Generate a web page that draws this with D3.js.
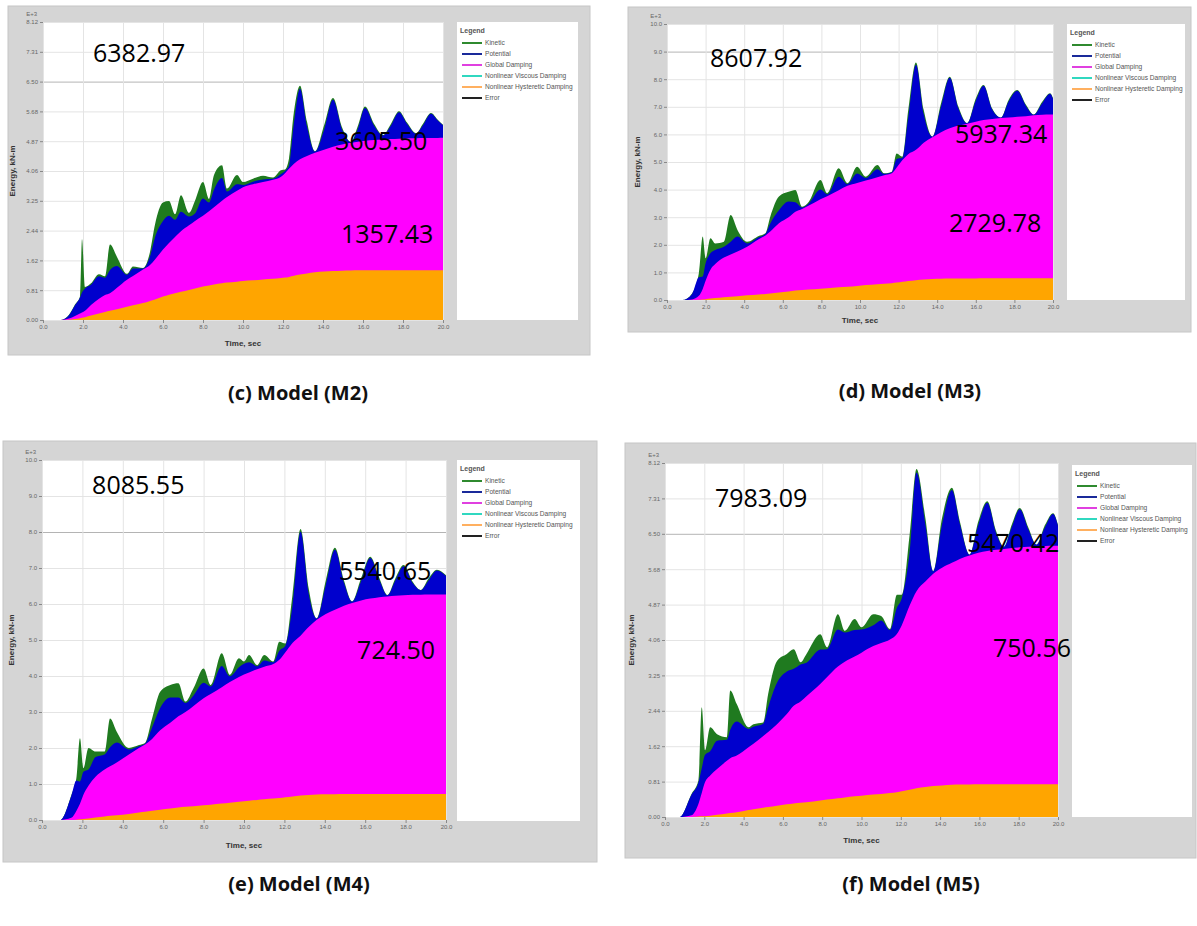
<!DOCTYPE html>
<html>
<head>
<meta charset="utf-8">
<script src="https://cdn.jsdelivr.net/npm/d3@7"></script>
<style>
  body { margin: 0; background: #fff; }
</style>
</head>
<body>
<svg id="chart" width="1197" height="926" font-family="Liberation Sans, Arial, sans-serif"></svg>
<script>
// legend entries (SAP2000 energy plot)
const seriesNames = ["Kinetic", "Potential", "Global Damping", "Nonlinear Viscous Damping", "Nonlinear Hysteretic Damping", "Error"];
const xTickLabels = ["0.0", "2.0", "4.0", "6.0", "8.0", "10.0", "12.0", "14.0", "16.0", "18.0", "20.0"];
const yTicks812 = ["0.00", "0.81", "1.62", "2.44", "3.25", "4.06", "4.87", "5.68", "6.50", "7.31", "8.12"];
const yTicks10 = ["0.0", "1.0", "2.0", "3.0", "4.0", "5.0", "6.0", "7.0", "8.0", "9.0", "10.0"];

// energies in kN-m
const timeM2 = [0, 0.9, 1.3, 1.6, 1.85, 1.95, 2.1, 2.4, 2.8, 3.1, 3.35, 3.7, 4.2, 4.5, 5.0, 5.35, 5.6, 6.0, 6.3, 6.6, 6.9, 7.3, 7.6, 8.0, 8.3, 8.55, 8.95, 9.2, 9.7, 10.0, 10.5, 11.0, 11.5, 11.9, 12.1, 12.3, 12.55, 12.85, 13.2, 13.6, 14.05, 14.5, 14.95, 15.4, 15.75, 16.1, 16.55, 17.0, 17.4, 17.8, 18.2, 18.65, 19.0, 19.4, 19.75, 20.0];
const hystM2 = [0, 0, 10, 30, 50, 60, 75, 120, 180, 220, 250, 290, 360, 400, 460, 520, 560, 640, 690, 730, 770, 820, 860, 910, 940, 970, 1000, 1020, 1045, 1060, 1080, 1105, 1125, 1145, 1155, 1175, 1205, 1240, 1270, 1300, 1320, 1335, 1345, 1350, 1353, 1355, 1356, 1357, 1357, 1357, 1357, 1357, 1357, 1357, 1357, 1357];
const dampM2 = [0, 0, 30, 80, 130, 145, 175, 290, 400, 460, 480, 590, 740, 800, 915, 980, 1090, 1280, 1410, 1530, 1650, 1760, 1840, 1930, 2020, 2100, 2250, 2330, 2475, 2560, 2620, 2655, 2695, 2755, 2845, 2945, 3055, 3140, 3200, 3260, 3320, 3385, 3435, 3480, 3507, 3530, 3549, 3563, 3575, 3585, 3593, 3598, 3601, 3603, 3605, 3606];
const potM2 = [0, 0, 90, 290, 430, 545, 610, 550, 610, 470, 630, 590, 130, 200, 25, 230, 600, 780, 740, 470, 530, 240, 200, 470, 240, 480, 620, 150, 180, 60, 70, 70, 30, 80, 60, 80, 1130, 1923, 810, 30, 540, 1280, 410, 15, 360, 895, 395, 110, 368, 718, 400, 125, 352, 660, 468, 347];
const kinM2 = [0, 0, 10, 20, 30, 1450, 40, 40, 60, 40, 700, 250, 30, 60, 20, 120, 350, 500, 400, 150, 450, 100, 350, 450, 100, 400, 350, 80, 250, 80, 80, 100, 30, 100, 40, 200, 300, 80, 120, 10, 120, 50, 60, 5, 80, 40, 50, 10, 50, 30, 30, 10, 40, 20, 20, 10];
const notesM2 = ["6382.97", "3605.50", "1357.43"];

const timeM3 = [0, 0.8, 1.3, 1.65, 1.85, 2.0, 2.25, 2.5, 2.95, 3.3, 3.65, 4.15, 4.75, 5.1, 5.35, 5.8, 6.3, 6.65, 7.0, 7.35, 7.95, 8.3, 8.9, 9.35, 9.85, 10.3, 10.9, 11.25, 11.65, 11.9, 12.2, 12.5, 12.9, 13.3, 13.75, 14.2, 14.65, 15.1, 15.55, 16.0, 16.4, 16.85, 17.3, 17.7, 18.15, 18.6, 19.0, 19.45, 19.85, 20.0];
const hystM3 = [0, 0, 0, 10, 20, 30, 50, 70, 100, 120, 140, 170, 200, 220, 240, 270, 310, 340, 360, 380, 410, 430, 460, 480, 510, 540, 570, 590, 610, 630, 660, 690, 720, 745, 760, 770, 775, 780, 782, 783, 784, 785, 785, 785, 785, 785, 785, 785, 785, 785];
const dampM3 = [0, 0, 20, 140, 380, 670, 1050, 1230, 1440, 1530, 1620, 1760, 2000, 2120, 2240, 2510, 2690, 2860, 2940, 3040, 3240, 3330, 3520, 3660, 3730, 3790, 3880, 3930, 3980, 4170, 4410, 4590, 4720, 4955, 5140, 5310, 5445, 5540, 5608, 5677, 5736, 5775, 5805, 5825, 5855, 5875, 5910, 5925, 5935, 5937];
const potM3 = [0, 0, 200, 670, 450, 630, 590, 510, 390, 460, 540, 120, 70, 50, 290, 470, 570, 340, 50, 80, 350, 70, 490, 60, 340, 90, 290, 50, 40, 310, 80, 1350, 3088, 1040, 15, 930, 1830, 620, 15, 760, 1240, 340, 15, 580, 940, 370, 20, 430, 750, 568];
const kinM3 = [0, 0, 20, 150, 1450, 180, 550, 240, 180, 970, 240, 60, 50, 30, 250, 500, 350, 450, 30, 60, 350, 40, 300, 30, 250, 50, 150, 20, 20, 200, 40, 250, 80, 150, 5, 120, 40, 60, 5, 80, 30, 40, 5, 60, 30, 40, 5, 50, 20, 20];
const notesM3 = ["8607.92", "5937.34", "2729.78"];

const timeM4 = [0, 0.9, 1.45, 1.7, 1.88, 2.05, 2.3, 2.65, 3.1, 3.37, 3.7, 4.3, 4.8, 5.1, 5.45, 5.85, 6.35, 6.75, 7.1, 7.5, 8.0, 8.35, 8.9, 9.3, 9.75, 10.0, 10.25, 10.65, 11.0, 11.45, 11.75, 12.05, 12.4, 12.8, 13.2, 13.6, 14.05, 14.5, 14.95, 15.35, 15.8, 16.25, 16.7, 17.1, 17.5, 17.9, 18.35, 18.75, 19.15, 19.55, 20.0];
const hystM4 = [0, 0, 0, 10, 20, 30, 45, 70, 100, 115, 135, 170, 210, 230, 255, 285, 320, 345, 365, 385, 410, 425, 455, 480, 505, 520, 535, 555, 575, 595, 610, 630, 655, 680, 695, 705, 712, 717, 720, 722, 723, 724, 725, 725, 725, 725, 725, 725, 725, 725, 725];
const dampM4 = [0, 0, 60, 240, 430, 670, 905, 1130, 1300, 1375, 1465, 1650, 1790, 1870, 1995, 2205, 2380, 2535, 2635, 2785, 2970, 3075, 3235, 3350, 3465, 3520, 3565, 3635, 3685, 3735, 3840, 4030, 4265, 4440, 4665, 4855, 5008, 5123, 5230, 5308, 5377, 5426, 5465, 5485, 5505, 5520, 5530, 5535, 5538, 5540, 5540];
const potM4 = [0, 0, 610, 850, 620, 640, 450, 550, 420, 530, 550, 140, 50, 20, 320, 620, 700, 520, 250, 290, 430, 210, 590, 160, 270, 300, 280, 80, 170, 50, 250, 180, 1030, 2886, 930, 35, 810, 1670, 640, 35, 540, 1130, 480, 35, 430, 805, 325, 125, 407, 665, 515];
const kinM4 = [0, 0, 20, 60, 1200, 100, 600, 150, 80, 800, 300, 40, 30, 20, 250, 450, 350, 400, 40, 200, 400, 40, 350, 40, 250, 60, 200, 30, 150, 20, 250, 60, 300, 80, 150, 5, 120, 50, 60, 5, 80, 30, 50, 5, 60, 30, 40, 5, 50, 20, 20];
const notesM4 = ["8085.55", "5540.65", "724.50"];

const timeM5 = [0, 0.75, 1.35, 1.7, 1.87, 2.04, 2.3, 2.65, 3.15, 3.32, 3.65, 4.25, 4.5, 5.0, 5.25, 5.7, 6.2, 6.55, 6.9, 7.2, 7.9, 8.25, 8.8, 9.15, 9.65, 10.0, 10.6, 11.0, 11.45, 11.8, 12.05, 12.45, 12.8, 13.25, 13.65, 14.1, 14.6, 15.0, 15.5, 15.95, 16.4, 16.85, 17.25, 17.65, 18.05, 18.5, 18.9, 19.35, 19.75, 20.0];
const hystM5 = [0, 0, 0, 10, 15, 20, 30, 50, 80, 90, 110, 160, 180, 215, 230, 260, 290, 310, 325, 340, 380, 400, 430, 450, 475, 490, 515, 530, 550, 570, 590, 625, 660, 690, 710, 725, 738, 744, 748, 750, 751, 751, 751, 751, 751, 751, 751, 751, 751, 751];
const dampM5 = [0, 0, 40, 290, 535, 780, 920, 1050, 1210, 1260, 1300, 1440, 1500, 1645, 1720, 1870, 2070, 2240, 2325, 2430, 2670, 2810, 3020, 3110, 3205, 3280, 3405, 3460, 3520, 3630, 3810, 4225, 4520, 4710, 4870, 4995, 5092, 5176, 5252, 5310, 5349, 5379, 5399, 5419, 5434, 5449, 5459, 5464, 5469, 5470];
const potM5 = [0, 0, 470, 490, 570, 630, 560, 650, 480, 650, 780, 420, 390, 280, 570, 950, 980, 850, 850, 770, 790, 640, 850, 670, 610, 530, 480, 520, 220, 600, 620, 1230, 2723, 1310, 55, 990, 1670, 810, 15, 650, 1110, 380, 45, 480, 875, 390, 35, 445, 730, 459];
const kinM5 = [0, 0, 20, 50, 1400, 100, 550, 150, 60, 900, 400, 40, 60, 30, 300, 500, 400, 450, 50, 200, 350, 40, 350, 40, 250, 50, 250, 100, 20, 300, 80, 400, 80, 150, 5, 150, 50, 60, 5, 80, 30, 50, 5, 60, 30, 40, 5, 50, 20, 20];
const notesM5 = ["7983.09", "5470.42", "750.56"];

const layerColor = { hyst: "#ffa500", damp: "#ff00ff", pot: "#0000cd", kin: "#1f7a1f" };
const legendColor = ["#2f8a2f", "#1a2a9a", "#e040e0", "#30d8c0", "#ffb060", "#222222"];

// layout of the four panels: frame, plot area and legend box in pixels
const panels = [
  { caption: "(c) Model (M2)", time: timeM2, hyst: hystM2, damp: dampM2, pot: potM2, kin: kinM2, notes: notesM2,
    yTicks: yTicks812, yMax: 8120, frame: [8, 6, 582, 349], plot: [43, 22, 400, 298], legend: [457, 22, 121, 298],
    cap: [298, 400], noteAt: [[2.5, 7030], [14.6, 4630], [14.9, 2100]], darkTick: 8, titleGap: 26, yTitleX: 15 },
  { caption: "(d) Model (M3)", time: timeM3, hyst: hystM3, damp: dampM3, pot: potM3, kin: kinM3, notes: notesM3,
    yTicks: yTicks10, yMax: 10000, frame: [628, 7, 563, 325], plot: [667, 24, 386, 276], legend: [1067, 24, 118, 276],
    cap: [910, 398], noteAt: [[2.23, 8442], [14.92, 5688], [14.61, 2464]], darkTick: 9, titleGap: 23, yTitleX: 640 },
  { caption: "(e) Model (M4)", time: timeM4, hyst: hystM4, damp: dampM4, pot: potM4, kin: kinM4, notes: notesM4,
    yTicks: yTicks10, yMax: 10000, frame: [3, 441, 594, 421], plot: [42, 460, 404, 360], legend: [457, 460, 123, 361],
    cap: [299, 891], noteAt: [[2.48, 9056], [14.7, 6667], [15.6, 4472]], darkTick: 8, titleGap: 28, yTitleX: 14 },
  { caption: "(f) Model (M5)", time: timeM5, hyst: hystM5, damp: dampM5, pot: potM5, kin: kinM5, notes: notesM5,
    yTicks: yTicks812, yMax: 8120, frame: [625, 443, 571, 415], plot: [665, 463, 393, 354], legend: [1072, 465, 120, 352],
    cap: [911, 891], noteAt: [[2.54, 7111], [15.37, 6079], [16.69, 3670]], darkTick: 8, titleGap: 26, yTitleX: 634 }
];

const svg = d3.select("#chart");

panels.forEach(p => drawPanel(p));

function drawPanel(p) {
  const g = svg.append("g");
  const [fx, fy, fw, fh] = p.frame;
  const [px, py, pw, ph] = p.plot;
  const [lx, ly, lw, lh] = p.legend;

  g.append("rect").attr("x", fx).attr("y", fy).attr("width", fw).attr("height", fh)
    .attr("fill", "#d5d5d5").attr("stroke", "#c6c6c6");
  g.append("rect").attr("x", px).attr("y", py).attr("width", pw).attr("height", ph).attr("fill", "#fff");

  const x = d3.scaleLinear().domain([0, 20]).range([px, px + pw]);
  const y = d3.scaleLinear().domain([0, p.yMax]).range([py + ph, py]);
  const yVals = p.yTicks.map((_, i) => p.yMax * i / 10);
  const xVals = xTickLabels.map(d => +d);

  // grid
  g.append("g").attr("transform", `translate(${px},0)`)
    .call(d3.axisLeft(y).tickValues(yVals).tickSize(-pw).tickFormat(""))
    .call(a => a.select(".domain").remove())
    .call(a => a.selectAll("line").attr("stroke", (d, i) => i === p.darkTick ? "#b4b4b4" : "#e4e4e4"));
  g.append("g").attr("transform", `translate(0,${py + ph})`)
    .call(d3.axisBottom(x).tickValues(xVals).tickSize(-ph).tickFormat(""))
    .call(a => a.select(".domain").remove())
    .call(a => a.selectAll("line").attr("stroke", "#e4e4e4"));

  // stacked energies, painted from the top layer down
  const rows = p.time.map((t, i) => ({ t: t, hyst: p.hyst[i], damp: p.damp[i], pot: p.pot[i], kin: p.kin[i] }));
  const layers = d3.stack().keys(["hyst", "damp", "pot", "kin"])(rows);
  const area = d3.area()
    .x(d => x(d.data.t))
    .y0(y(0))
    .y1(d => y(d[1]))
    .curve(d3.curveMonotoneX);
  layers.slice().reverse().forEach(layer => {
    g.append("path").attr("d", area(layer)).attr("fill", layerColor[layer.key]);
  });

  // axes
  g.append("g").attr("transform", `translate(${px},0)`)
    .call(d3.axisLeft(y).tickValues(yVals).tickFormat((d, i) => p.yTicks[i]).tickSize(3).tickPadding(2))
    .call(a => a.select(".domain").remove())
    .call(a => a.attr("font-size", 6).attr("font-family", "Liberation Sans, Arial, sans-serif"))
    .call(a => a.selectAll("text").attr("fill", "#666"))
    .call(a => a.selectAll("line").attr("stroke", "#888"));
  g.append("g").attr("transform", `translate(0,${py + ph})`)
    .call(d3.axisBottom(x).tickValues(xVals).tickFormat((d, i) => xTickLabels[i]).tickSize(3).tickPadding(2))
    .call(a => a.select(".domain").remove())
    .call(a => a.attr("font-size", 6).attr("font-family", "Liberation Sans, Arial, sans-serif"))
    .call(a => a.selectAll("text").attr("fill", "#666"))
    .call(a => a.selectAll("line").attr("stroke", "#888"));

  g.append("text").attr("x", px - 6).attr("y", py - 6).attr("text-anchor", "end")
    .attr("font-size", 6).attr("fill", "#666").text("E+3");
  g.append("text").attr("x", px + pw / 2).attr("y", py + ph + p.titleGap).attr("text-anchor", "middle")
    .attr("font-size", 8).attr("font-weight", "bold").attr("fill", "#333").text("Time, sec");
  g.append("text").attr("transform", `translate(${p.yTitleX},${py + ph / 2}) rotate(-90)`).attr("text-anchor", "middle")
    .attr("font-size", 8).attr("font-weight", "bold").attr("fill", "#333").text("Energy, kN-m");

  // legend
  g.append("rect").attr("x", lx).attr("y", ly).attr("width", lw).attr("height", lh).attr("fill", "#fff");
  g.append("text").attr("x", lx + 3).attr("y", ly + 11).attr("font-size", 7).attr("font-weight", "bold")
    .attr("fill", "#555").text("Legend");
  const item = g.selectAll(".leg").data(seriesNames).enter().append("g")
    .attr("transform", (d, i) => `translate(${lx + 5},${ly + 21 + i * 11})`);
  item.append("line").attr("x1", 0).attr("x2", 20).attr("stroke-width", 2)
    .attr("stroke", (d, i) => legendColor[i]);
  item.append("text").attr("x", 23).attr("y", 2).attr("font-size", 6.6).attr("fill", "#555").text(d => d);

  // values written on the plot
  g.selectAll(".note").data(p.notes).enter().append("text")
    .attr("x", (d, i) => x(p.noteAt[i][0]))
    .attr("y", (d, i) => y(p.noteAt[i][1]))
    .attr("font-family", "Open Sans, sans-serif")
    .attr("font-size", 25).attr("fill", "#000").text(d => d);

  svg.append("text").attr("x", p.cap[0]).attr("y", p.cap[1]).attr("text-anchor", "middle")
    .attr("font-family", "Open Sans, sans-serif").attr("font-weight", "bold")
    .attr("font-size", 20).attr("fill", "#111").text(p.caption);
}
</script>
</body>
</html>
